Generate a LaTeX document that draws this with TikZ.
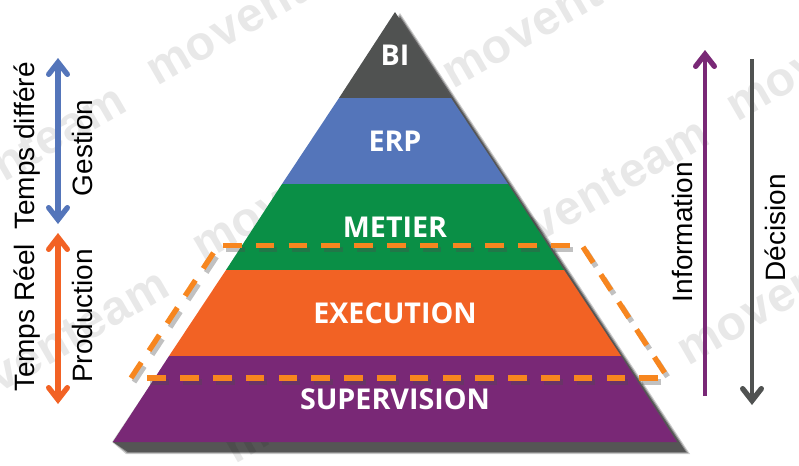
\documentclass[tikz,border=0pt]{standalone}
\usepackage{fontspec}
\setmainfont{Liberation Sans}
\newfontfamily\levelfont{Open Sans}
\newfontfamily\markfont[LetterSpace=2]{Liberation Sans}
\usetikzlibrary{arrows.meta}
\definecolor{colbi}{HTML}{505251}
\definecolor{colerp}{HTML}{5475BA}
\definecolor{colmetier}{HTML}{0A8F46}
\definecolor{colexec}{HTML}{F26224}
\definecolor{colsup}{HTML}{792876}
\definecolor{coldash}{HTML}{F7861F}
\definecolor{colmark}{HTML}{E8E8E8}
\tikzset{
	level/.style={font=\levelfont\bfseries\fontsize{21.5}{24}\selectfont, text=white},
	side/.style={font=\fontsize{21}{24}\selectfont, rotate=90, text=black},
	mark text/.style={font=\markfont\bfseries\fontsize{36}{40}\selectfont, text=colmark, rotate=30, anchor=base west, inner sep=0pt},
	barb/.tip={Straight Barb[length=9pt,width=14pt,line width=4pt,line cap=round]},
	both/.style={line width=3.8pt, barb-barb},
	single/.style={line width=3.6pt, -barb},
	dashbox/.style={line width=4pt, coldash, dash pattern=on 14pt off 10.6pt},
	dashshadow/.style={line width=4pt, black!70, opacity=0.35, dash pattern=on 14pt off 10.6pt},
}
\begin{document}
\begin{tikzpicture}[x=0.75pt,y=-0.75pt]
	\useasboundingbox (0,0) rectangle (799,465);
	% watermark
	\node[mark text] (mark1) at (-108,247) {moventeam};
	\node[mark text] (mark2) at (157,87) {moventeam};
	\node[mark text] (mark3) at (453,90) {moventeam};
	\node[mark text] (mark4) at (475,280) {moventeam};
	\node[mark text] (mark5) at (737,123) {moventeam};
	\node[mark text] (mark6) at (688,367) {moventeam};
	\node[mark text] (mark7) at (-65,431) {moventeam};
	\node[mark text] (mark8) at (203,263) {moventeam};
	\node[mark text] (mark9) at (235,465) {moventeam};
	% shadow
	\fill[black,opacity=0.2] (400,13) -- (690,454) -- (126,454) -- (112,442) -- cycle;
	\fill[black,opacity=0.3] (400,15) -- (688,453) -- (127,453) -- (113,442) -- cycle;
	\fill[black,opacity=0.4] (400,17) -- (686,452) -- (128,452) -- (113,442) -- cycle;
	% pyramid
	\fill[colbi] (395,12) -- (451,98) -- (339,98) -- cycle;
	\fill[colerp] (339,98) -- (451,98) -- (508,184) -- (282,184) -- cycle;
	\fill[colmetier] (282,184) -- (508,184) -- (564,270) -- (226,270) -- cycle;
	\fill[colexec] (226,270) -- (564,270) -- (621,356) -- (169,356) -- cycle;
	\fill[colsup] (169,356) -- (621,356) -- (677,442) -- (113,442) -- cycle;
	\node[level] (bi) at (395,55) {BI};
	\node[level] (erp) at (395,141) {ERP};
	\node[level] (metier) at (395,227) {METIER};
	\node[level] (exec) at (395,313) {EXECUTION};
	\node[level] (sup) at (395,399) {SUPERVISION};
	% dashed frame
	\coordinate (fa) at (131,378);
	\coordinate (fb) at (214,252);
	\coordinate (fc) at (223,245.5);
	\coordinate (fd) at (572,245.5);
	\coordinate (fe) at (583,247);
	\coordinate (ff) at (666,375);
	\coordinate (fg) at (658,378);
	\coordinate (fh) at (147,378);
	\foreach \from/\to in {fa/fb,fc/fd,fe/ff,fg/fh}{
		\draw[dashshadow] ([shift={(3,4)}]\from) -- ([shift={(3,4)}]\to);
		\draw[dashbox] (\from) -- (\to);
	}
	% arrows
	\coordinate (ga) at (58,58);
	\coordinate (gb) at (58,224);
	\coordinate (pa) at (58,233);
	\coordinate (pb) at (58,404);
	\coordinate (ia) at (705,396);
	\coordinate (ib) at (705,50);
	\coordinate (da) at (752,59);
	\coordinate (db) at (752,405);
	\draw[both,colerp] (ga) -- (gb);
	\draw[both,colexec] (pa) -- (pb);
	\draw[single,colsup] (ia) -- (ib);
	\draw[single,colbi] (da) -- (db);
	\node[side] (diff) at (27,146) {Temps différé};
	\node[side] (reel) at (27,318) {Temps Réel};
	\node[side] (gestion) at (82,148) {Gestion};
	\node[side] (prod) at (82,316) {Production};
	\node[side] (info) at (682,232) {Information};
	\node[side] (deci) at (775,228) {Décision};
\end{tikzpicture}
\end{document}
